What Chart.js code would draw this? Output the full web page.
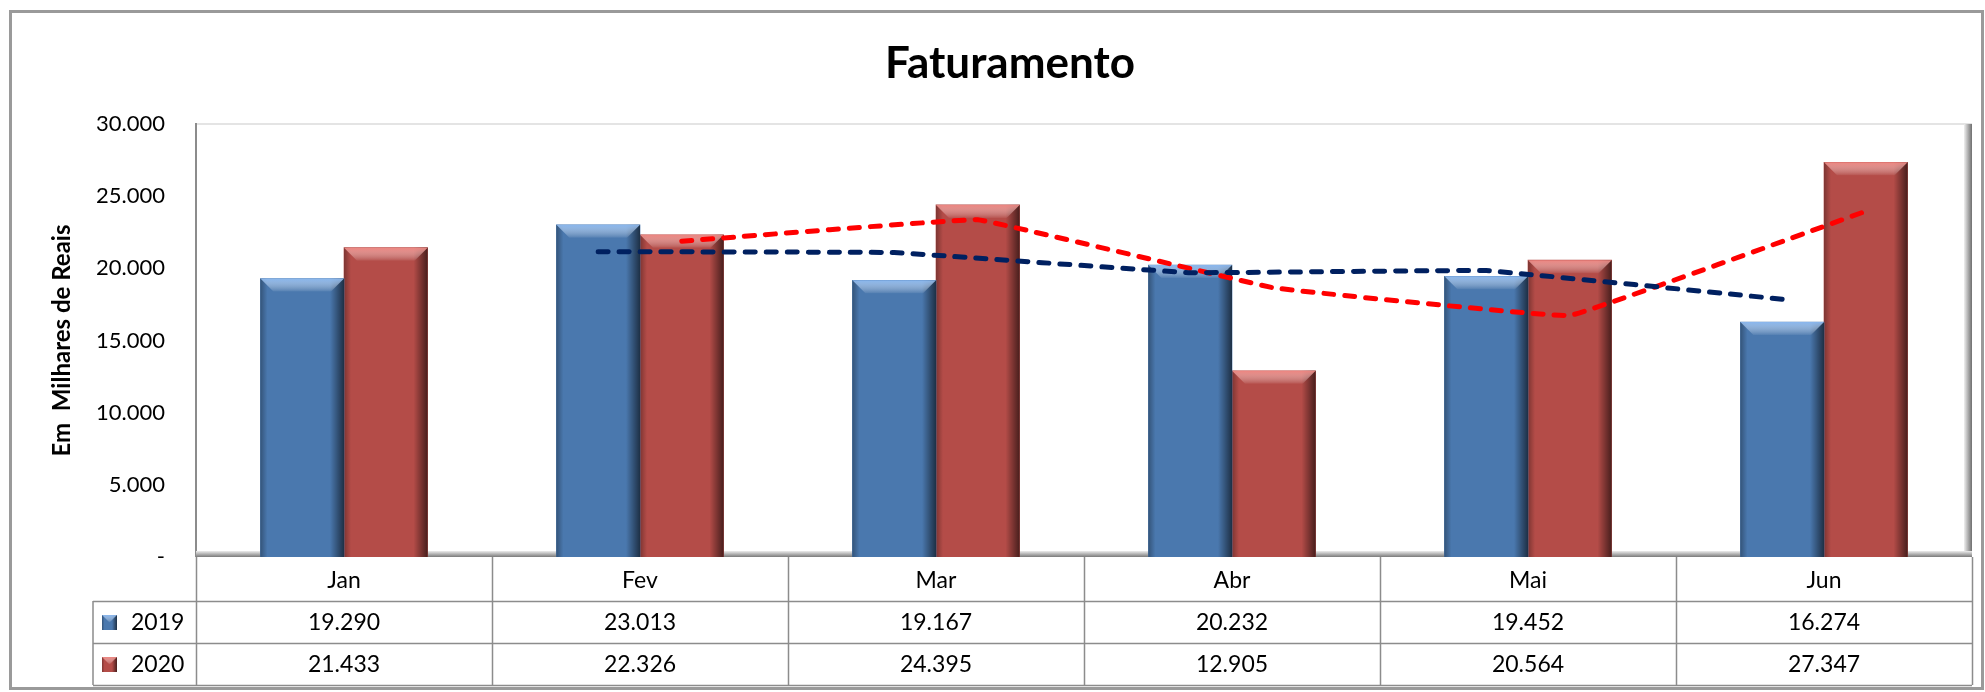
<!DOCTYPE html>
<html>
<head>
<meta charset="utf-8">
<title>Faturamento</title>
<script src="https://cdn.jsdelivr.net/npm/chart.js@4.4.1/dist/chart.umd.min.js"></script>
<style>
  html, body { margin: 0; padding: 0; background: #fff; }
  #wrap { width: 1985px; height: 692px; position: relative; }
</style>
</head>
<body>
<div id="wrap"><canvas id="barChart"></canvas></div>
<script>
// data
var months = ["Jan", "Fev", "Mar", "Abr", "Mai", "Jun"];
var series = ["2019", "2020"];
var values2019 = [19290, 23013, 19167, 20232, 19452, 16274];
var values2020 = [21433, 22326, 24395, 12905, 20564, 27347];
// moving average trend lines (2 periods), as drawn on the chart
var trend2019 = [null, 21152, 21090, 19700, 19842, 17863];
var trend2020 = [null, 21880, 23361, 18650, 16735, 23956];

var FONT = "Lato, 'Open Sans', sans-serif";
var BLUE = "#4a78ae";
var RED = "#b44c48";
var BAR_PCT = 0.565;
var SHIFT = BAR_PCT / 4; // centre of each bar inside the category

function fmt(v) {
  if (v === 0) return "-";
  return String(Math.round(v)).replace(/\B(?=(\d{3})+(?!\d))/g, ".");
}

function bevel(ctx, left, top, w, h, light) {
  var right = left + w;
  var sw = Math.min(14, w / 3);
  // right side shadow
  var g = ctx.createLinearGradient(right - sw, 0, right, 0);
  g.addColorStop(0, "rgba(0,0,0,0)");
  g.addColorStop(1, "rgba(0,0,0,0.6)");
  ctx.fillStyle = g;
  ctx.fillRect(right - sw, top, sw, h);
  // left side shadow
  g = ctx.createLinearGradient(left, 0, left + sw / 2, 0);
  g.addColorStop(0, "rgba(0,0,0,0.3)");
  g.addColorStop(1, "rgba(0,0,0,0)");
  ctx.fillStyle = g;
  ctx.fillRect(left, top, sw / 2, h);
  // top bevel
  var bh = Math.min(13, h / 2);
  g = ctx.createLinearGradient(0, top, 0, top + bh);
  g.addColorStop(0, light);
  g.addColorStop(1, "rgba(255,255,255,0.05)");
  ctx.fillStyle = g;
  ctx.beginPath();
  ctx.moveTo(left, top);
  ctx.lineTo(right, top);
  ctx.lineTo(right - bh, top + bh);
  ctx.lineTo(left + bh, top + bh);
  ctx.closePath();
  ctx.fill();
}

//-------------
//- PLOT FRAME + OUTER BORDER + TITLE -
//-------------
var framePlugin = {
  id: "frame",
  beforeDraw: function (chart) {
    var ctx = chart.ctx, a = chart.chartArea;
    ctx.save();
    ctx.fillStyle = "#fff";
    ctx.fillRect(0, 0, chart.width, chart.height);
    ctx.strokeStyle = "#9a9a9a";
    ctx.lineWidth = 3;
    ctx.strokeRect(10.5, 11.5, chart.width - 13, chart.height - 15);
    // title (Excel centres it a bit right of the canvas middle)
    ctx.fillStyle = "#000";
    ctx.font = "bold 44px " + FONT;
    ctx.textAlign = "center";
    ctx.textBaseline = "middle";
    ctx.fillText("Faturamento", 1010, 64);
    // top of plot area
    ctx.fillStyle = "#e4e4e4";
    ctx.fillRect(a.left, a.top - 1, a.right - a.left, 2);
    // left
    ctx.fillStyle = "#8c8c8c";
    ctx.fillRect(a.left - 1, a.top - 1, 2, a.bottom - a.top + 1);
    // right band
    var g = ctx.createLinearGradient(a.right - 8, 0, a.right, 0);
    g.addColorStop(0, "#f0f0f0");
    g.addColorStop(1, "#6f6f6f");
    ctx.fillStyle = g;
    ctx.fillRect(a.right - 8, a.top, 8, a.bottom - a.top);
    // bottom band
    g = ctx.createLinearGradient(0, a.bottom - 6, 0, a.bottom);
    g.addColorStop(0, "#ececec");
    g.addColorStop(1, "#7a7a7a");
    ctx.fillStyle = g;
    ctx.fillRect(a.left, a.bottom - 6, a.right - a.left, 6);
    ctx.restore();
  }
};

//-------------
//- BAR BEVEL -
//-------------
var bevelPlugin = {
  id: "bevel",
  afterDatasetDraw: function (chart, args) {
    var ds = chart.data.datasets[args.index];
    if (ds.type !== "bar") return;
    var ctx = chart.ctx;
    var light = args.index === 0 ? "rgba(140,185,240,0.95)" : "rgba(240,135,130,0.95)";
    ctx.save();
    args.meta.data.forEach(function (el) {
      var w = el.width;
      bevel(ctx, el.x - w / 2, el.y, w, el.base - el.y, light);
    });
    ctx.restore();
  }
};

//-------------
//- DATA TABLE UNDER THE AXIS -
//-------------
var tablePlugin = {
  id: "dataTable",
  afterDraw: function (chart) {
    var ctx = chart.ctx, a = chart.chartArea, x = chart.scales.x;
    var r0 = a.bottom, r1 = r0 + 44, r2 = r1 + 42, r3 = r2 + 42;
    var legLeft = 93;
    var colW = (a.right - a.left) / months.length;
    ctx.save();
    ctx.strokeStyle = "#8c8c8c";
    ctx.lineWidth = 1.5;
    ctx.beginPath();
    for (var k = 0; k <= months.length; k++) {
      var cx = Math.round(a.left + k * colW) + 0.5;
      ctx.moveTo(cx, r0);
      ctx.lineTo(cx, r3);
    }
    ctx.moveTo(legLeft, r1);
    ctx.lineTo(legLeft, r3);
    [r1, r2, r3].forEach(function (ry) {
      ctx.moveTo(legLeft, ry + 0.5);
      ctx.lineTo(a.right, ry + 0.5);
    });
    ctx.stroke();

    ctx.font = "23px " + FONT;
    ctx.fillStyle = "#000";
    ctx.textBaseline = "middle";
    var rows = [values2019, values2020];
    var cols = [BLUE, RED];
    var lights = ["rgba(140,185,240,0.95)", "rgba(240,135,130,0.95)"];
    rows.forEach(function (vals, r) {
      var cy = (r === 0 ? (r1 + r2) / 2 : (r2 + r3) / 2);
      // legend key
      ctx.fillStyle = cols[r];
      ctx.fillRect(102, cy - 7, 15, 15);
      bevel(ctx, 102, cy - 7, 15, 15, lights[r]);
      ctx.fillStyle = "#000";
      ctx.textAlign = "left";
      ctx.fillText(series[r], 131, cy + 1);
      ctx.textAlign = "center";
      vals.forEach(function (v, i) {
        ctx.fillText(fmt(v), x.getPixelForValue(i), cy + 1);
      });
    });
    ctx.restore();
  }
};

// points on the hidden linear axis, shifted to the centre of the own bar
function pts(arr, off) {
  return arr.map(function (v, i) {
    return { x: i + off, y: v };
  });
}

var lineStyle = {
  type: "line",
  xAxisID: "x2",
  borderWidth: 5,
  borderDash: [10, 11],
  borderCapStyle: "round",
  pointRadius: 0,
  tension: 0.05,
  order: 0,
};

var barStyle = {
  type: "bar",
  xAxisID: "x2",
  grouped: false,
  categoryPercentage: 1,
  barPercentage: 1,
  order: 1,
};

var barChartCanvas = document.getElementById("barChart").getContext("2d");
var barData = {
  labels: months,
  datasets: [
    Object.assign({}, barStyle, {
      label: series[0],
      data: pts(values2019, -SHIFT),
      backgroundColor: BLUE,
    }),
    Object.assign({}, barStyle, {
      label: series[1],
      data: pts(values2020, SHIFT),
      backgroundColor: RED,
    }),
    Object.assign({}, lineStyle, {
      label: "Média 2019",
      data: pts(trend2019, -SHIFT),
      borderColor: "#002060",
    }),
    Object.assign({}, lineStyle, {
      label: "Média 2020",
      data: pts(trend2020, SHIFT),
      borderColor: "#ff0000",
    }),
  ],
};

var barOptions = {
  maintainAspectRatio: false,
  responsive: true,
  animation: false,
  layout: { padding: { left: 10, right: 13, top: 124, bottom: 7 } },
  plugins: {
    legend: { display: false },
    tooltip: { enabled: false },
    title: { display: false },
  },
  scales: {
    x: {
      type: "category",
      offset: true,
      grid: { display: false, drawTicks: false },
      border: { display: false },
      ticks: { color: "#000", font: { family: FONT, size: 23 }, padding: 10, maxRotation: 0 },
      afterFit: function (scale) { scale.height = 128; },
    },
    x2: {
      type: "linear",
      display: false,
      offset: false,
      min: -0.5,
      max: 5.5,
      ticks: { stepSize: 1 },
    },
    y: {
      min: 0,
      max: 30000,
      grid: { display: false, drawTicks: false },
      border: { display: false },
      ticks: {
        stepSize: 5000,
        color: "#000",
        padding: 31,
        font: { family: FONT, size: 22 },
        callback: function (v) { return fmt(v); },
      },
      title: {
        display: true,
        text: "Em  Milhares de Reais",
        color: "#000",
        font: { family: FONT, size: 24, weight: "bold" },
        padding: { top: 38, bottom: 0 },
      },
      afterFit: function (scale) { scale.width = 186; },
    },
  },
};

var barChart = new Chart(barChartCanvas, {
  type: "bar",
  data: barData,
  options: barOptions,
  plugins: [framePlugin, bevelPlugin, tablePlugin],
});
</script>
</body>
</html>
